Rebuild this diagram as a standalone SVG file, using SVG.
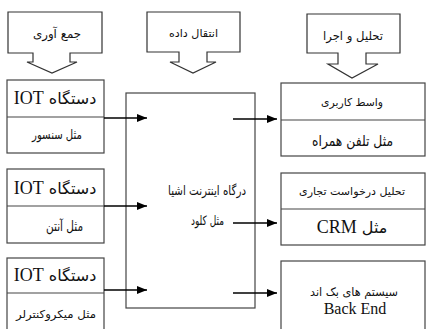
<svg xmlns="http://www.w3.org/2000/svg" width="428" height="329" viewBox="0 0 428 329">
<style>
.box{fill:#fff;stroke:#444;stroke-width:1.2}
.div{stroke:#444;stroke-width:1.2;fill:none}
.call{fill:#fff;stroke:#333;stroke-width:1.2}
.con{stroke:#000;stroke-width:1.5;fill:none}
text{font-family:"DejaVu Sans",sans-serif;fill:#111}
.fa{text-anchor:start}
.mid{text-anchor:middle}
.lat{font-family:"Liberation Serif",serif}
.rtl{direction:rtl;unicode-bidi:embed}
.s{font-size:11px}
.c{font-size:12px}
.m{font-size:13px}
.l{font-size:16px}
</style>
<defs>
<marker id="ah" markerWidth="10" markerHeight="8" refX="10" refY="4" orient="auto" markerUnits="userSpaceOnUse">
<path d="M0,0 L10,4 L0,8 Z" fill="#000"/>
</marker>
</defs>
<rect width="428" height="329" fill="#fff"/>
<g id="callout-collect">
<path class="call" d="M8,12 H102 V53 H70 V62 H77 L52,73 L27,62 H33 V53 H8 Z"/>
<text class="fa c" x="33" y="38" textLength="48" lengthAdjust="spacingAndGlyphs">جمع آوری</text>
</g>
<g id="callout-transfer">
<path class="call" d="M147,12 H240 V52 H207 V62 H216 L193,73 L170,62 H179 V52 H147 Z"/>
<text class="fa s" x="169" y="37" textLength="49" lengthAdjust="spacingAndGlyphs">انتقال داده</text>
</g>
<g id="callout-analyze">
<path class="call" d="M307,14 H400 V53 H366 V64 H378 L352,78 L328,64 H338 V53 H307 Z"/>
<text class="fa c" x="323" y="40" textLength="60" lengthAdjust="spacingAndGlyphs">تحلیل و اجرا</text>
</g>
<g id="iot-sensor">
<rect class="box" x="7" y="80" width="97" height="73"/>
<line class="div" x1="7" y1="117" x2="104" y2="117"/>
<text class="mid l rtl" x="55" y="104">دستگاه <tspan class="lat" style="font-size:18px">IOT</tspan></text>
<text class="fa m" x="32" y="139" textLength="50" lengthAdjust="spacingAndGlyphs">مثل سنسور</text>
</g>
<g id="iot-antenna">
<rect class="box" x="7" y="169" width="97" height="74"/>
<line class="div" x1="7" y1="206" x2="104" y2="206"/>
<text class="mid l rtl" x="55" y="194">دستگاه <tspan class="lat" style="font-size:18px">IOT</tspan></text>
<text class="fa" style="font-size:14px" x="46" y="231" textLength="37" lengthAdjust="spacingAndGlyphs">مثل آنتن</text>
</g>
<g id="iot-micro">
<rect class="box" x="7" y="258" width="97" height="80"/>
<line class="div" x1="7" y1="293" x2="104" y2="293"/>
<text class="mid l rtl" x="55" y="281">دستگاه <tspan class="lat" style="font-size:18px">IOT</tspan></text>
<text class="fa s" x="16" y="318" textLength="80" lengthAdjust="spacingAndGlyphs">مثل میکروکنترلر</text>
</g>
<g id="gateway">
<rect class="box" x="126" y="93" width="129" height="215"/>
<text class="fa" style="font-size:13px" x="168" y="195" textLength="78" lengthAdjust="spacingAndGlyphs">درگاه اینترنت اشیا</text>
<text class="fa" style="font-size:13px" x="191" y="225" textLength="33" lengthAdjust="spacingAndGlyphs">مثل کلود</text>
</g>
<g id="ui">
<rect class="box" x="281" y="83" width="144" height="73"/>
<line class="div" x1="281" y1="120" x2="425" y2="120"/>
<text class="fa s" x="321" y="106" textLength="62" lengthAdjust="spacingAndGlyphs">واسط کاربری</text>
<text class="fa" style="font-size:15px" x="312" y="146" textLength="81" lengthAdjust="spacingAndGlyphs">مثل تلفن همراه</text>
</g>
<g id="crm">
<rect class="box" x="281" y="173" width="144" height="72"/>
<line class="div" x1="281" y1="209" x2="425" y2="209"/>
<text class="fa s" x="299" y="195" textLength="106" lengthAdjust="spacingAndGlyphs">تحلیل درخواست تجاری</text>
<text class="mid rtl" style="font-size:16px" x="352" y="233">مثل <tspan class="lat" style="font-size:18px">CRM</tspan></text>
</g>
<g id="backend">
<rect class="box" x="281" y="261" width="144" height="80"/>
<text class="fa c" x="310" y="296" textLength="88" lengthAdjust="spacingAndGlyphs">سیستم های بک اند</text>
<text class="mid lat" style="font-size:16px" x="355" y="314">Back End</text>
</g>
<g id="connectors">
<line class="con" x1="104" y1="118" x2="147" y2="118" marker-end="url(#ah)"/>
<line class="con" x1="104" y1="206" x2="147" y2="206" marker-end="url(#ah)"/>
<line class="con" x1="104" y1="290" x2="147" y2="290" marker-end="url(#ah)"/>
<line class="con" x1="233" y1="119" x2="277" y2="119" marker-end="url(#ah)"/>
<line class="con" x1="233" y1="223" x2="277" y2="223" marker-end="url(#ah)"/>
<line class="con" x1="233" y1="293" x2="277" y2="293" marker-end="url(#ah)"/>
</g>
</svg>
